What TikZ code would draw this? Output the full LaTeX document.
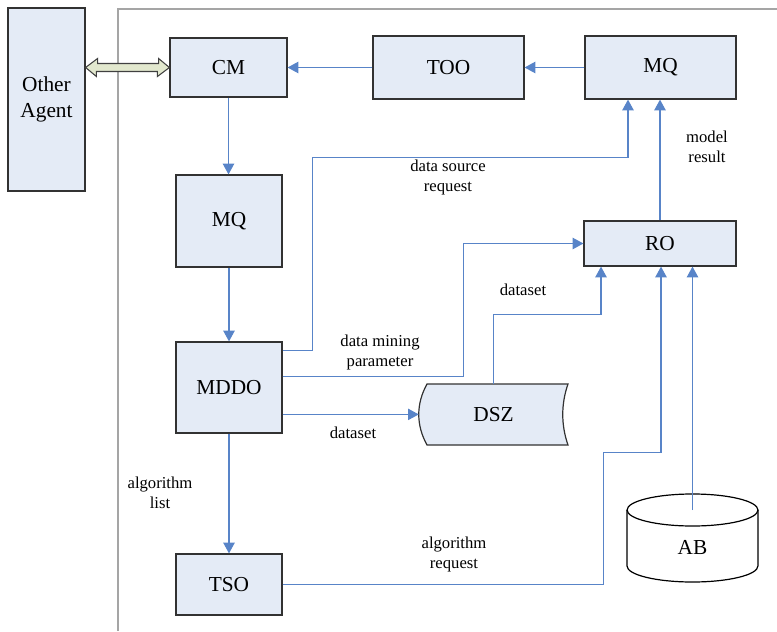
\documentclass[tikz,border=0pt]{standalone}
\usepackage{fontspec}
\setmainfont{Liberation Serif}
\usetikzlibrary{calc,arrows.meta,positioning}
\definecolor{boxfill}{RGB}{228,235,246}
\definecolor{boxline}{RGB}{50,50,50}
\definecolor{linkblue}{RGB}{88,132,200}
\definecolor{framegray}{RGB}{165,165,165}
\definecolor{arrowgreen}{RGB}{226,232,206}

\begin{document}
\begin{tikzpicture}[x=0.75pt, y=-0.75pt,
  box/.style={draw=boxline, fill=boxfill, line width=0.9pt, inner sep=0pt, font=\fontsize{16}{19}\selectfont},
  link/.style={linkblue, line width=0.9pt},
  linkto/.style={link, -{Triangle[length=8pt,width=8.5pt]}},
  lbl/.style={font=\fontsize{12.5}{15}\selectfont, align=center, inner sep=0pt}]
  \useasboundingbox (0,0) rectangle (777,631);

  % frame of the agent
  \draw[framegray, line width=1pt] (118,631) -- (118,9) -- (777,9);

  % boxes
  \node[box, minimum width=57.75pt, minimum height=137.25pt, align=center] (agent) at (46.5,99.5) {Other\\Agent};
  \node[box, minimum width=87.75pt, minimum height=44.25pt] (cm) at (228.5,67.5) {CM};
  \node[box, minimum width=113.25pt, minimum height=47.25pt] (too) at (448.5,67.5) {TOO};
  \node[box, minimum width=113.25pt, minimum height=47.25pt] (mqtop) at (660.5,67.5) {MQ};
  \node[box, minimum width=79.5pt, minimum height=69pt] (mqmid) at (229,221) {MQ};
  \node[box, minimum width=79.5pt, minimum height=68.25pt] (mddo) at (229,387.5) {MDDO};
  \node[box, minimum width=79.5pt, minimum height=45.75pt] (tso) at (229,584.5) {TSO};
  \node[box, minimum width=114pt, minimum height=33.75pt] (ro) at (660,243.5) {RO};

  % stored data DSZ
  \coordinate (dszc) at (493.5,414.5);
  \draw[box] ($(dszc)+(-66.5,-30.5)$) -- ($(dszc)+(74.5,-30.5)$)
    .. controls ($(dszc)+(67.5,-10.5)$) and ($(dszc)+(67.5,10.5)$) .. ($(dszc)+(74.5,30.5)$)
    -- ($(dszc)+(-66.5,30.5)$)
    .. controls ($(dszc)+(-77.5,10.5)$) and ($(dszc)+(-77.5,-10.5)$) .. cycle;
  \node[minimum width=111.75pt, minimum height=45.75pt, inner sep=0pt, font=\fontsize{16}{19}\selectfont] (dsz) at (dszc) {DSZ};

  % database AB
  \coordinate (abtop) at (692.5,510);
  \draw[black, line width=0.9pt, fill=white] ($(abtop)+(-65.5,0)$) -- ++(0,56)
    arc[start angle=180, end angle=360, x radius=49.1pt, y radius=12pt] -- ++(0,-56);
  \draw[black, line width=0.9pt, fill=white] (abtop) ellipse [x radius=49.1pt, y radius=12pt];
  \node[inner sep=0pt, font=\fontsize{16}{19}\selectfont] (ab) at (692.5,547) {AB};

  % link to the other agent
  \draw[draw=black!75, fill=arrowgreen, line width=0.8pt] (agent.east |- cm.west) -- ++(12,-9) -- ++(0,5) -- ++(61,0) -- ++(0,-5)
    -- (cm.west) -- ++(-12,9) -- ++(0,-5) -- ++(-61,0) -- ++(0,5) -- cycle;

  % connectors
  \draw[linkto] (mqtop.west) -- (too.east);
  \draw[linkto] (too.west) -- (cm.east);
  \draw[linkto] (cm.south) -- (cm.south |- mqmid.north);
  \draw[linkto] (mqmid.south) -- (mddo.north);
  \draw[linkto] (mddo.south) -- (tso.north);
  \draw[linkto] ($(mddo.north east)+(0,9)$) -- ++(30,0) |- ($(mqtop.south)+(-32.5,58)$) -- ($(mqtop.south)+(-32.5,0)$);
  \draw[linkto] ($(mddo.north east)+(0,35)$) -- ++(181,0) |- (ro.west);
  \coordinate (m3) at ($(mddo.north east)+(0,73)$);
  \draw[linkto] (m3) -- (m3 -| dsz.west);
  \draw[linkto] (dsz.north) -- ++(0,-69) -| ($(ro.south)+(-59,0)$);
  \draw[linkto] (ro.north) -- (ro.north |- mqtop.south);
  \draw[linkto] (tso.east) -- ++(321,0) -- ++(0,-132) -| ($(ro.south)+(1,0)$);
  \draw[linkto] (abtop) -- ($(ro.south)+(32.5,0)$);

  % labels
  \node[lbl] (lsrc) at (448,177) {data source\\request};
  \node[lbl] (lmodel) at (707,147) {model\\result};
  \node[lbl] (lparam) at (380,352) {data mining\\parameter};
  \node[lbl] (lset1) at (523,290) {dataset};
  \node[lbl] (lset2) at (353,433) {dataset};
  \node[lbl] (lalgo) at (160,493) {algorithm\\list};
  \node[lbl] (lreq) at (454,554) {algorithm\\request};
\end{tikzpicture}
\end{document}
